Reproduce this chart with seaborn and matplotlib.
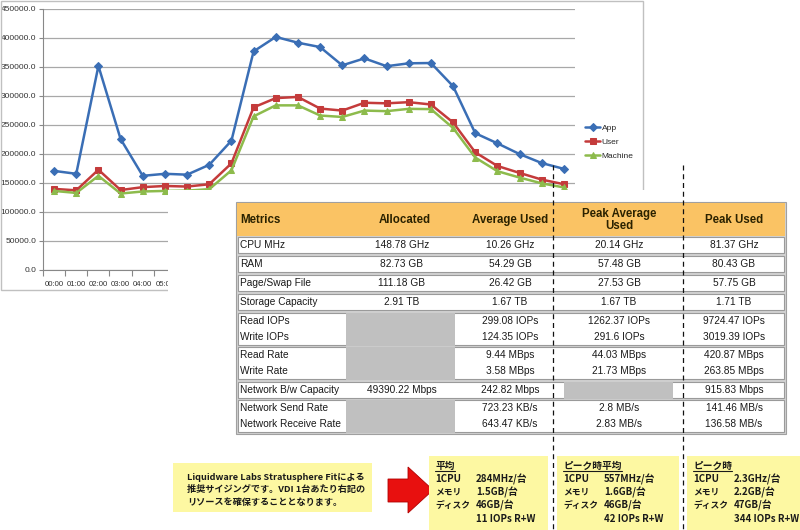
import numpy as np
import pandas as pd
import matplotlib
matplotlib.use("Agg")
import matplotlib.pyplot as plt
from matplotlib.patches import Rectangle, Polygon
import seaborn as sns

# ---- chart data ----
hours = ["00:00", "01:00", "02:00", "03:00", "04:00", "05:00", "06:00", "07:00",
         "08:00", "09:00", "10:00", "11:00", "12:00", "13:00", "14:00", "15:00",
         "16:00", "17:00", "18:00", "19:00", "20:00", "21:00", "22:00", "23:00"]
app = [170000, 165000, 351000, 225000, 161500, 165000, 163500, 180500,
       222000, 376000, 401000, 391000, 383500, 352000, 364000, 350500,
       355500, 356000, 316000, 235000, 217500, 199000, 183500, 173500]
user = [139000, 136500, 172000, 137000, 142000, 144000, 143000, 147000,
        183000, 279500, 295500, 297500, 277500, 274000, 287500, 286500,
        288500, 284500, 253500, 202000, 178500, 166500, 155000, 147000]
machine = [135500, 132000, 161500, 131000, 134500, 135500, 136000, 138500,
           171000, 264000, 283000, 283000, 265500, 263000, 274000, 273000,
           277000, 276500, 244000, 193000, 169500, 158500, 148500, 141500]
visible_labels = 6  # the table image hides the tick labels after 05:00

# ---- table data ----
metrics = ["CPU MHz", "RAM", "Page/Swap File", "Storage Capacity", "Read IOPs",
           "Write IOPs", "Read Rate", "Write Rate", "Network B/w Capacity",
           "Network Send Rate", "Network Receive Rate"]
allocated = ["148.78 GHz", "82.73 GB", "111.18 GB", "2.91 TB", None, None,
             None, None, "49390.22 Mbps", None, None]
avg_used = ["10.26 GHz", "54.29 GB", "26.42 GB", "1.67 TB", "299.08 IOPs",
            "124.35 IOPs", "9.44 MBps", "3.58 MBps", "242.82 Mbps",
            "723.23 KB/s", "643.47 KB/s"]
peak_avg = ["20.14 GHz", "57.48 GB", "27.53 GB", "1.67 TB", "1262.37 IOPs",
            "291.6 IOPs", "44.03 MBps", "21.73 MBps", None, "2.8 MB/s",
            "2.83 MB/s"]
peak_used = ["81.37 GHz", "80.43 GB", "57.75 GB", "1.71 TB", "9724.47 IOPs",
             "3019.39 IOPs", "420.87 MBps", "263.85 MBps", "915.83 Mbps",
             "141.46 MB/s", "136.58 MB/s"]
headers = ["Metrics", "Allocated", "Average Used", "Peak Average\nUsed", "Peak Used"]
groups = [(0, 0), (1, 1), (2, 2), (3, 3), (4, 5), (6, 7), (8, 8), (9, 10)]

# ---- callouts ----
note_lines = ["Liquidware Labs Stratusphere Fitによる",
              "推奨サイジングです。VDI 1台あたり右記の",
              "リソースを確保することとなります。"]
box_titles = ["平均", "ピーク時平均", "ピーク時"]
box_labels = ["1CPU", "メモリ", "ディスク", ""]
cpu_vals = ["284MHz/台", "557MHz/台", "2.3GHz/台"]
mem_vals = ["1.5GB/台", "1.6GB/台", "2.2GB/台"]
disk_vals = ["46GB/台", "46GB/台", "47GB/台"]
iops_vals = ["11 IOPs R+W", "42 IOPs R+W", "344 IOPs R+W"]

sns.set_theme(style="white")
plt.rcParams['font.family'] = ['Liberation Sans', 'DejaVu Sans']
JP = ['Noto Sans CJK JP', 'DejaVu Sans']

W, H = 800, 530
fig = plt.figure(figsize=(8, 5.3), dpi=100)


def fbox(x0, y0, x1, y1):
    return [x0 / W, 1 - y1 / H, (x1 - x0) / W, (y1 - y0) / H]


# line chart
ax = fig.add_axes(fbox(43, 8.5, 575, 269.5), zorder=1)
idx = np.arange(len(hours))
series = [("App", app, "#3A6EB5", "D", 4),
          ("User", user, "#C43B3B", "s", 4.5),
          ("Machine", machine, "#8DBB4C", "^", 5)]
for name, vals, col, mk, ms in series:
    sns.lineplot(x=idx, y=vals, ax=ax, color=col, marker=mk, markersize=ms,
                 markeredgecolor=col, lw=1.8, label=name)

ax.set_xlim(-0.5, 23.5)
ax.set_ylim(0, 450000)
ax.set_yticks(np.arange(0, 450001, 50000))
ax.set_yticklabels([f"{v:.1f}" for v in np.arange(0, 450001, 50000)])
ax.set_xticks(idx)
ax.set_xticklabels([h if i < visible_labels else "" for i, h in enumerate(hours)])
ax.set_xticks(np.arange(-0.5, 24, 1), minor=True)
ax.yaxis.grid(True, color="#a8a8a8", lw=0.9)
ax.set_axisbelow(True)
ax.tick_params(axis="y", left=True, length=3, width=0.8, color="#888888",
               labelsize=6, pad=2, labelcolor="#333333")
ax.tick_params(axis="x", which="major", bottom=False, labelsize=5.6, pad=2,
               labelcolor="#333333")
ax.tick_params(axis="x", which="minor", bottom=True, length=4, width=0.8,
               color="#888888")
for s in ["top", "right"]:
    ax.spines[s].set_visible(False)
for s in ["left", "bottom"]:
    ax.spines[s].set_color("#888888")
    ax.spines[s].set_linewidth(0.8)
ax.set_xlabel("")
ax.set_ylabel("")
ax.legend(loc="upper left", bbox_to_anchor=(585 / W, 1 - 124 / H),
          bbox_transform=fig.transFigure, frameon=False, fontsize=6,
          handlelength=1.8, handletextpad=0.2, labelspacing=0.75,
          borderpad=0, borderaxespad=0)

# overlay in pixel coordinates
ov = fig.add_axes([0, 0, 1, 1], zorder=3)
ov.set_xlim(0, W)
ov.set_ylim(H, 0)
ov.axis("off")
ov.patch.set_alpha(0)

ov.add_patch(Rectangle((0.5, 0.5), 642.5, 289.5, fill=False, ec="#c0c0c0", lw=1))
ov.add_patch(Rectangle((168, 190), 632, 340, fc="white", ec="none"))

# table
tx0, tx1 = 237, 785
yc = [245, 264, 283, 302, 321, 337, 355, 371, 390, 408, 424]
col_x = [402, 510, 619, 734]
ov.add_patch(Rectangle((tx0 - 1, 202), tx1 - tx0 + 2, 232, fc="#d2d2d2",
                       ec="#a0a0a0", lw=0.8))
ov.add_patch(Rectangle((tx0, 203), tx1 - tx0, 33, fc="#FAC364", ec="none"))
hdr_x = [240, 405, 510, 619, 734]
for i, h in enumerate(headers):
    ov.text(hdr_x[i], 220, h, ha="left" if i == 0 else "center", va="center",
            fontsize=8.3, fontweight="bold", color="#2b2200", linespacing=1.0)
for a, b in groups:
    top, bot = yc[a] - 8, yc[b] + 8
    ov.add_patch(Rectangle((tx0 + 1, top), tx1 - tx0 - 2, bot - top, fc="white",
                           ec="#9a9a9a", lw=0.8))
for i in range(len(metrics)):
    ov.text(240, yc[i], metrics[i], ha="left", va="center", fontsize=7.3,
            color="#1a1a1a")
    for j, colvals in enumerate([allocated, avg_used, peak_avg, peak_used]):
        v = colvals[i]
        if v is None:
            cx0 = [346, 455, 564, 675][j]
            ov.add_patch(Rectangle((cx0, yc[i] - 8.5), 109, 17, fc="#c0c0c0",
                                   ec="none"))
        else:
            ov.text(col_x[j], yc[i], v, ha="center", va="center", fontsize=7.3,
                    color="#1a1a1a")

# left note box and arrow
ov.add_patch(Rectangle((173, 463), 199, 49, fc="#FDF8A2", ec="none"))
for k, line in enumerate(note_lines):
    ov.text(187, 477 + k * 12.5, line, ha="left", va="center", fontsize=6.6,
            fontweight="bold", family=JP, color="#1a1a1a")
ov.add_patch(Polygon([(388, 479), (408, 479), (408, 467), (433, 490), (408, 513),
                      (408, 502), (388, 502)], closed=True, fc="#E8100F",
                     ec="#B00000", lw=0.6))

# right boxes
box_x = [429, 557, 687]
box_w = [119, 122, 113]
label_size = [7, 6.3, 6.3, 6.3]
titles = []
for b in range(3):
    bx = box_x[b]
    ov.add_patch(Rectangle((bx, 456), box_w[b], 74, fc="#FDF8A2", ec="none"))
    t = ov.text(bx + 6, 466, box_titles[b], ha="left", va="center",
                fontsize=7, fontweight="bold", family=JP, color="#1a1a1a")
    titles.append(t)
    vals = [cpu_vals[b], mem_vals[b], disk_vals[b], iops_vals[b]]
    for r in range(4):
        y = 479 + r * 13.3
        if box_labels[r]:
            ov.text(bx + 6, y, box_labels[r], ha="left", va="center",
                    fontsize=label_size[r], fontweight="bold", family=JP,
                    color="#1a1a1a")
        ov.text(bx + 47, y, vals[r], ha="left", va="center", fontsize=7,
                fontweight="bold", family=JP, color="#1a1a1a", clip_on=True)

# dashed separators
for x in [553, 683]:
    ov.plot([x, x], [165, 530], color="#111111", lw=0.9, ls=(0, (4, 3)))

# underline box titles
fig.canvas.draw()
renderer = fig.canvas.get_renderer()
inv = ov.transData.inverted()
for t in titles:
    bb = t.get_window_extent(renderer)
    (x0, y0), (x1, y1) = inv.transform([[bb.x0, bb.y0], [bb.x1, bb.y1]])
    ov.plot([x0, x1], [max(y0, y1) - 0.5] * 2, color="#1a1a1a", lw=0.8)

fig.savefig("out.png", dpi=100)
